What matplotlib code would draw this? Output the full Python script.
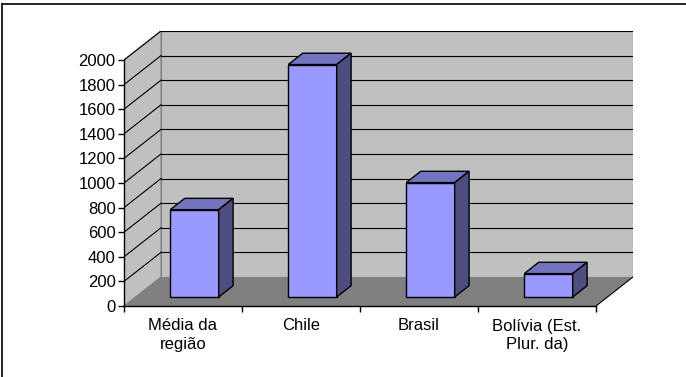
"""Excel-style 3D column chart redrawn with plain matplotlib patches."""

import matplotlib

matplotlib.use("Agg")
import matplotlib.pyplot as plt
from matplotlib.lines import Line2D

categories = ["Média da\nregião", "Chile", "Brasil", "Bolívia (Est.\nPlur. da)"]
values = [710, 1890, 930, 190]
y_ticks = list(range(0, 2001, 200))

# depth of the 3D box, in data units (x: categories, y: value)
DX = 0.3136
DY = 236
T0, T1 = 0.31, 0.70  # bar depth span as fraction of the box depth
BAR_W = 0.41

FRONT = "#9999FF"
TOP = "#7373BF"
SIDE = "#4D4D80"
WALL = "#C0C0C0"
FLOOR = "#808080"

W, H = 686, 377
fig = plt.figure(figsize=(W / 100, H / 100), dpi=100)
plt.rcParams["font.family"] = ["Liberation Sans", "DejaVu Sans"]

n = len(categories)
# axes covers front plane plus the depth offset
left, bottom = 124, 306
px_x, px_y = 118, 246 / 2000
ax_w = n * px_x + DX * px_x
ax_h = 2000 * px_y + DY * px_y
ax = fig.add_axes([left / W, (H - bottom) / H, ax_w / W, ax_h / H])
ax.set_xlim(0, n + DX)
ax.set_ylim(0, 2000 + DY)
ax.patch.set_visible(False)

# walls and floor
ax.fill([DX, n + DX, n + DX, DX], [DY, DY, 2000 + DY, 2000 + DY],
        facecolor=WALL, edgecolor="#808080", lw=0.8, zorder=1)
ax.fill([0, DX, DX, 0], [0, DY, 2000 + DY, 2000],
        facecolor=WALL, edgecolor="#808080", lw=0.8, zorder=1)
ax.fill([0, n, n + DX, DX], [0, 0, DY, DY],
        facecolor=FLOOR, edgecolor="none", zorder=1)
ax.plot([n, n + DX], [0, DY], color="black", lw=0.8, zorder=2)

# gridlines on back and left walls
for v in y_ticks[1:]:
    ax.plot([DX, n + DX], [v + DY, v + DY], color="black", lw=0.8, zorder=2)
    ax.plot([0, DX], [v, v + DY], color="black", lw=0.8, zorder=2)

# bars
for i, v in enumerate(values):
    xl = i + 0.5 - BAR_W / 2
    xr = i + 0.5 + BAR_W / 2
    a = (T0 * DX, T0 * DY)
    b = (T1 * DX, T1 * DY)
    kw = dict(edgecolor="black", lw=1.0, zorder=3)
    ax.fill([xl + a[0], xr + a[0], xr + a[0], xl + a[0]],
            [a[1], a[1], v + a[1], v + a[1]], facecolor=FRONT, **kw)
    ax.fill([xl + a[0], xr + a[0], xr + b[0], xl + b[0]],
            [v + a[1], v + a[1], v + b[1], v + b[1]], facecolor=TOP, **kw)
    ax.fill([xr + a[0], xr + b[0], xr + b[0], xr + a[0]],
            [a[1], b[1], v + b[1], v + a[1]], facecolor=SIDE, **kw)

# axes lines and ticks
for s in ["top", "right"]:
    ax.spines[s].set_visible(False)
ax.spines["left"].set_bounds(0, 2000)
ax.spines["bottom"].set_bounds(0, n)
for s in ["left", "bottom"]:
    ax.spines[s].set_linewidth(1.0)
    ax.spines[s].set_zorder(4)
ax.set_yticks(y_ticks)
ax.set_yticklabels([str(t) for t in y_ticks])
ax.set_xticks(range(n + 1))
ax.set_xticklabels([""] * (n + 1))
ax.set_xticks([i + 0.5 for i in range(n)], minor=True)
ax.set_xticklabels(categories, minor=True)
ax.tick_params(axis="y", length=4, width=1, labelsize=12, pad=2)
ax.tick_params(axis="x", which="major", length=4, width=1)
ax.tick_params(axis="x", which="minor", length=0, labelsize=12, pad=9)
for lbl in ax.get_xticklabels(minor=True):
    lbl.set_linespacing(1.3)

# chart outer frame (only top and left edges fall inside the image)
fig.add_artist(Line2D([2 / W, 1], [1 - 4 / H, 1 - 4 / H], color="black", lw=1.2,
                      transform=fig.transFigure))
fig.add_artist(Line2D([2 / W, 2 / W], [0, 1 - 4 / H], color="black", lw=1.2,
                      transform=fig.transFigure))

fig.savefig("out.png", dpi=100)
